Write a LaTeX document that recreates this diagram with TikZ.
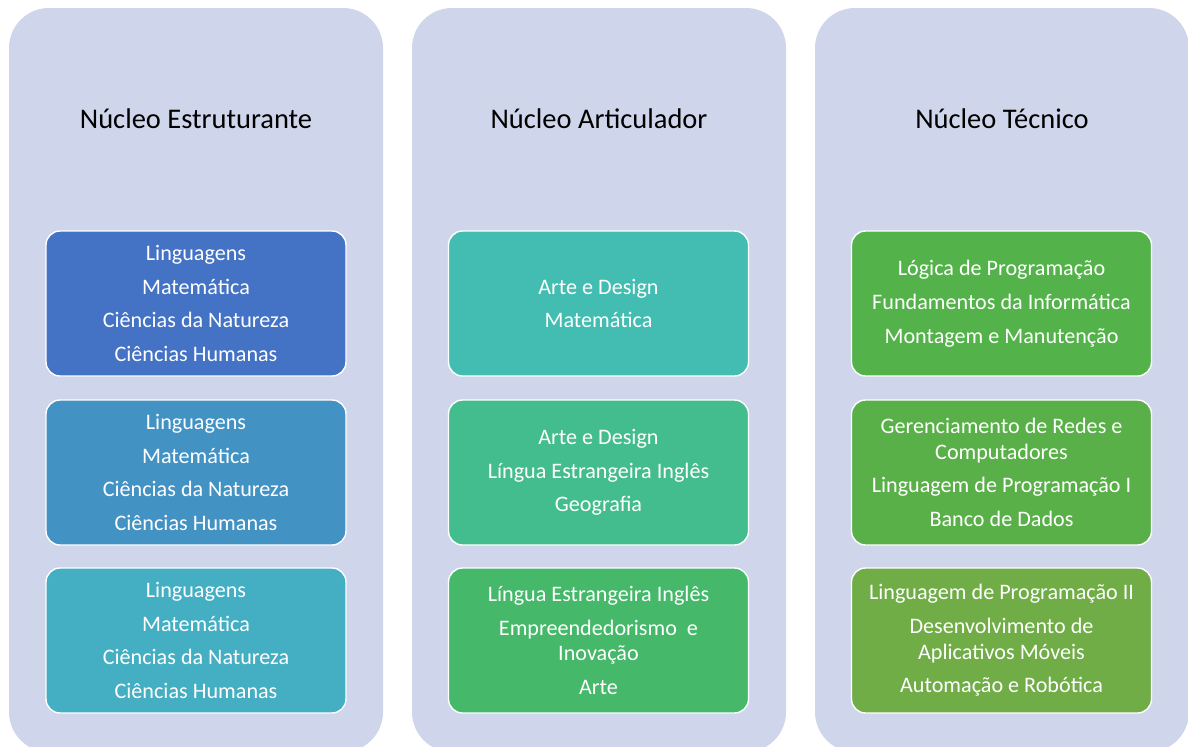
\documentclass[tikz,border=0pt]{standalone}
\usepackage{fontspec}
\setmainfont{Carlito}
\usepackage{tikz}
\usetikzlibrary{shapes,positioning,calc}
\definecolor{panelgray}{RGB}{207,213,234}
\definecolor{blueone}{RGB}{68,114,196}
\definecolor{bluetwo}{RGB}{67,146,196}
\definecolor{bluethree}{RGB}{68,174,194}
\definecolor{tealone}{RGB}{67,188,177}
\definecolor{tealtwo}{RGB}{68,189,142}
\definecolor{tealthree}{RGB}{69,184,106}
\definecolor{greenone}{RGB}{84,178,74}
\definecolor{greentwo}{RGB}{90,176,72}
\definecolor{greenthree}{RGB}{112,173,71}
\tikzset{
    % Column and item styles
    columnpanel/.style={
        rectangle, fill=panelgray, draw=none,
        minimum width=7.48cm, minimum height=14.88cm,
        rounded corners=0.8cm
    },
    columntitle/.style={
        font=\fontsize{16.2}{19}\selectfont, text=black
    },
    itembox/.style={
        rectangle, draw=white, line width=0.8pt,
        minimum width=6cm, minimum height=2.9cm,
        rounded corners=0.28cm, text=white, align=center,
        font=\fontsize{12.6}{14.5}\selectfont
    }
}

\begin{document}
\begin{tikzpicture}

\useasboundingbox (0,0) rectangle (23.76,-14.92);
\clip (0,0) rectangle (23.76,-14.92);

% Background panels
\node[columnpanel] (estruturante) at (3.92,-7.6) {};
\node[columnpanel] (articulador) at (11.98,-7.6) {};
\node[columnpanel] (tecnico) at (20.04,-7.6) {};

% Titles
\node[columntitle] (titleA) at (3.92,-2.38) {Núcleo Estruturante};
\node[columntitle] (titleB) at (11.98,-2.38) {Núcleo Articulador};
\node[columntitle] (titleC) at (20.04,-2.38) {Núcleo Técnico};

% Left column - Núcleo Estruturante
\node[itembox, fill=blueone] (estA) at (3.92,-6.07)
    {Linguagens\\[4.7pt]Matemática\\[4.7pt]Ciências da Natureza\\[4.7pt]Ciências Humanas};
\node[itembox, fill=bluetwo] (estB) at (3.92,-9.45)
    {Linguagens\\[4.7pt]Matemática\\[4.7pt]Ciências da Natureza\\[4.7pt]Ciências Humanas};
\node[itembox, fill=bluethree] (estC) at (3.92,-12.81)
    {Linguagens\\[4.7pt]Matemática\\[4.7pt]Ciências da Natureza\\[4.7pt]Ciências Humanas};

% Middle column - Núcleo Articulador
\node[itembox, fill=tealone] (artA) at (11.97,-6.07)
    {Arte e Design\\[4.7pt]Matemática};
\node[itembox, fill=tealtwo] (artB) at (11.97,-9.45)
    {Arte e Design\\[4.7pt]Língua Estrangeira Inglês\\[4.7pt]Geografia};
\node[itembox, fill=tealthree] (artC) at (11.97,-12.81)
    {Língua Estrangeira Inglês\\[4.7pt]Empreendedorismo\ \ e\\Inovação\\[4.7pt]Arte};

% Right column - Núcleo Técnico
\node[itembox, fill=greenone] (tecA) at (20.03,-6.07)
    {Lógica de Programação\\[4.7pt]Fundamentos da Informática\\[4.7pt]Montagem e Manutenção};
\node[itembox, fill=greentwo] (tecB) at (20.03,-9.45)
    {Gerenciamento de Redes e\\Computadores\\[4.7pt]Linguagem de Programação I\\[4.7pt]Banco de Dados};
\node[itembox, fill=greenthree] (tecC) at (20.03,-12.81)
    {Linguagem de Programação II\\[4.7pt]Desenvolvimento de\\Aplicativos Móveis\\[4.7pt]Automação e Robótica};

\end{tikzpicture}
\end{document}
